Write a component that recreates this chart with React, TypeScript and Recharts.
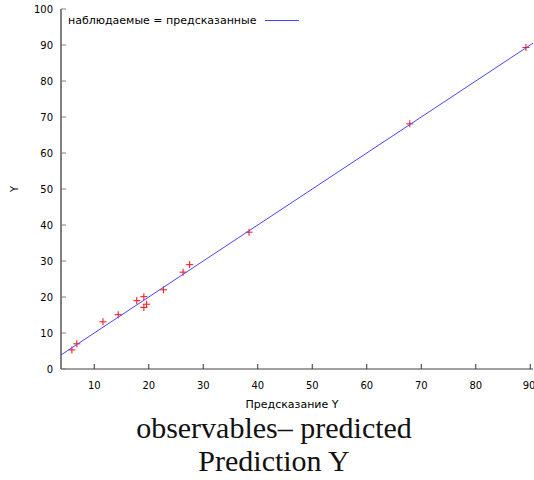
import { Legend, Scatter, ScatterChart, XAxis, YAxis } from "recharts";

const predicted = [5.9, 6.8, 11.6, 14.4, 17.8, 19.1, 19.1, 19.6, 22.7, 26.3, 27.5, 38.4, 67.9, 89.2];
const observed = [5.3, 7.0, 13.1, 15.1, 19.0, 20.1, 17.1, 18.0, 22.0, 26.9, 29.0, 38.0, 68.1, 89.3];

// identity line: observed = predicted, across the x range
const identityX = [3.9, 90.5];

const xDomain = [3.9, 90.5];
const yDomain = [0, 100];
const xTicks = [10, 20, 30, 40, 50, 60, 70, 80, 90];
const yTicks = [0, 10, 20, 30, 40, 50, 60, 70, 80, 90, 100];

const points = predicted.map((x, i) => ({ x, y: observed[i] }));
const identity = identityX.map((v) => ({ x: v, y: v }));

const FONT = "'DejaVu Sans', Verdana, sans-serif";
const FRAME = "#808080";

function Plus(props: any) {
  const { cx, cy } = props;
  if (cx == null || cy == null) return null;
  return (
    <g stroke="#ff2020" strokeWidth={1.1}>
      <line x1={cx - 3.5} y1={cy} x2={cx + 3.5} y2={cy} />
      <line x1={cx} y1={cy - 3.5} x2={cx} y2={cy + 3.5} />
    </g>
  );
}

function LegendBox() {
  return (
    <div
      style={{
        display: "flex",
        alignItems: "center",
        fontFamily: FONT,
        fontSize: 11,
        color: "#000",
        whiteSpace: "nowrap",
      }}
    >
      <span>наблюдаемые = предсказанные</span>
      <span
        style={{
          display: "inline-block",
          width: 34,
          marginLeft: 8,
          borderTop: "1px solid #4646ff",
        }}
      />
    </div>
  );
}

function YTitle(props: any) {
  const vb = props.viewBox || {};
  const cy = (vb.y ?? 0) + (vb.height ?? 0) / 2;
  return (
    <text
      x={14}
      y={cy}
      transform={`rotate(-90 14 ${cy})`}
      textAnchor="middle"
      dominantBaseline="central"
      fontFamily={FONT}
      fontSize={10}
      fill="#000"
    >
      Y
    </text>
  );
}

export default function App() {
  const tickStyle = { fontFamily: FONT, fontSize: 10, fill: "#000" };
  return (
    <div
      style={{
        position: "absolute",
        left: 0,
        top: 0,
        width: 534,
        height: 480,
        overflow: "hidden",
        background: "#fff",
      }}
    >
      <ScatterChart
        width={534}
        height={420}
        margin={{ top: 9, right: 1, bottom: 11, left: 0 }}
      >
        <XAxis
          type="number"
          dataKey="x"
          xAxisId="b"
          domain={xDomain}
          ticks={xTicks}
          allowDataOverflow
          height={40}
          tickSize={-5}
          tickMargin={18}
          tick={tickStyle}
          axisLine={{ stroke: FRAME, strokeWidth: 1.5 }}
          tickLine={{ stroke: "#333" }}
          label={{
            value: "Предсказание Y",
            position: "insideBottom",
            offset: 1,
            dx: -5,
            fontFamily: FONT,
            fontSize: 11,
            fill: "#000",
          }}
        />
        <XAxis
          type="number"
          dataKey="x"
          xAxisId="t"
          orientation="top"
          domain={xDomain}
          ticks={xTicks}
          allowDataOverflow
          height={0}
          tickSize={-5}
          tick={false}
          axisLine={{ stroke: FRAME }}
          tickLine={{ stroke: "#333" }}
        />
        <YAxis
          type="number"
          dataKey="y"
          yAxisId="l"
          domain={yDomain}
          ticks={yTicks}
          allowDataOverflow
          width={61}
          tickSize={-5}
          tickMargin={13}
          tick={tickStyle}
          axisLine={{ stroke: "#000" }}
          tickLine={{ stroke: FRAME }}
          label={<YTitle />}
        />
        <YAxis
          type="number"
          dataKey="y"
          yAxisId="r"
          orientation="right"
          domain={yDomain}
          ticks={yTicks}
          allowDataOverflow
          width={0}
          tickSize={-5}
          tick={false}
          axisLine={{ stroke: FRAME }}
          tickLine={{ stroke: "#333" }}
        />
        <Legend
          layout="vertical"
          align="center"
          verticalAlign="middle"
          content={() => <LegendBox />}
          wrapperStyle={{ left: 68, top: 14, width: "auto" }}
        />
        <Scatter
          data={points}
          xAxisId="b"
          yAxisId="l"
          shape={<Plus />}
          isAnimationActive={false}
        />
        <Scatter
          data={identity}
          xAxisId="b"
          yAxisId="l"
          line={{ stroke: "#4646ff", strokeWidth: 1 }}
          shape={() => <g />}
          isAnimationActive={false}
        />
      </ScatterChart>
      <div
        style={{
          position: "absolute",
          left: 7,
          top: 411,
          width: 534,
          textAlign: "center",
          fontFamily: "'Liberation Serif', 'Times New Roman', serif",
          fontSize: 30,
          lineHeight: "33px",
          color: "#111",
        }}
      >
        <div>observables– predicted</div>
        <div>Prediction Y</div>
      </div>
    </div>
  );
}
